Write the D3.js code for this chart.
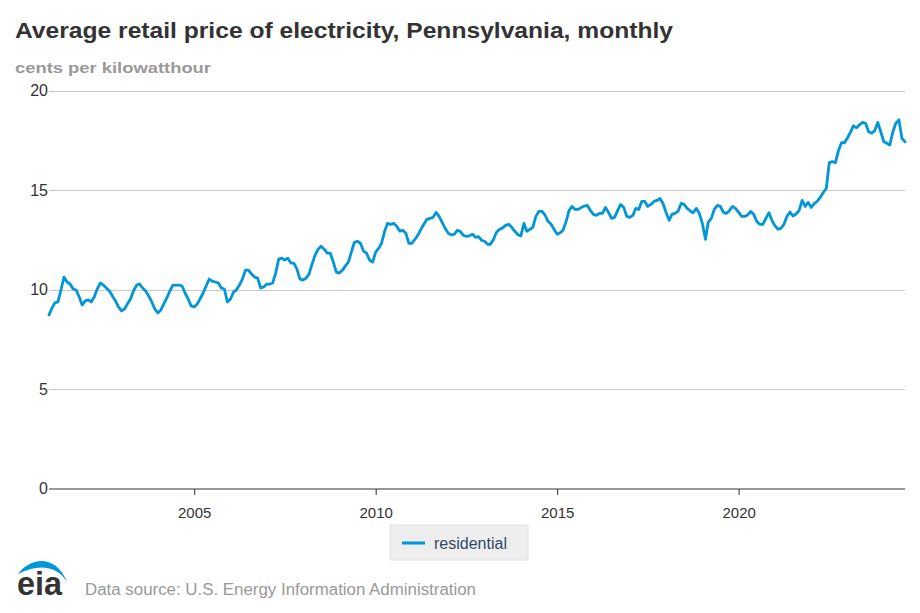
<!DOCTYPE html>
<html>
<head>
<meta charset="utf-8">
<script src="https://cdn.jsdelivr.net/npm/d3@7"></script>
<style>
  html, body { margin: 0; padding: 0; background: #fff; }
  svg { display: block; font-family: "Liberation Sans", Arial, sans-serif; }
</style>
</head>
<body>
<svg id="chart" width="920" height="613"></svg>
<script>
// ---- data (cents per kilowatthour, monthly, starting Jan 2001) ----
const startYear = 2001;
const v2001 = [8.75, 9.1, 9.35, 9.4, 10.0, 10.65, 10.4, 10.3, 10.05, 10.0, 9.65, 9.25];
const v2002 = [9.45, 9.5, 9.4, 9.65, 10.05, 10.35, 10.25, 10.1, 9.95, 9.7, 9.45, 9.15];
const v2003 = [8.95, 9.05, 9.3, 9.55, 9.95, 10.25, 10.3, 10.1, 9.95, 9.7, 9.4, 9.05];
const v2004 = [8.85, 9.0, 9.3, 9.6, 9.95, 10.25, 10.25, 10.25, 10.2, 9.85, 9.55, 9.2];
const v2005 = [9.15, 9.3, 9.55, 9.85, 10.2, 10.55, 10.45, 10.4, 10.35, 10.1, 10.05, 9.4];
const v2006 = [9.55, 9.9, 10.0, 10.25, 10.55, 11.0, 11.0, 10.8, 10.65, 10.6, 10.1, 10.15];
const v2007 = [10.3, 10.3, 10.35, 10.85, 11.55, 11.6, 11.5, 11.6, 11.35, 11.35, 11.05, 10.55];
const v2008 = [10.5, 10.6, 10.8, 11.3, 11.75, 12.05, 12.2, 12.05, 11.85, 11.85, 11.4, 10.9];
const v2009 = [10.85, 11.0, 11.2, 11.4, 11.9, 12.4, 12.45, 12.35, 11.95, 11.85, 11.5, 11.4];
const v2010 = [11.9, 12.1, 12.35, 12.95, 13.35, 13.3, 13.35, 13.2, 12.95, 13.0, 12.85, 12.35];
const v2011 = [12.35, 12.55, 12.75, 13.05, 13.3, 13.55, 13.6, 13.65, 13.9, 13.7, 13.4, 13.1];
const v2012 = [12.85, 12.77, 12.8, 13.0, 12.95, 12.75, 12.7, 12.72, 12.8, 12.65, 12.68, 12.5];
const v2013 = [12.45, 12.3, 12.3, 12.55, 12.9, 13.05, 13.12, 13.25, 13.3, 13.15, 12.95, 12.78];
const v2014 = [12.72, 13.35, 12.95, 13.05, 13.15, 13.7, 13.95, 13.95, 13.77, 13.45, 13.3, 13.05];
const v2015 = [12.8, 12.88, 13.0, 13.45, 14.0, 14.2, 14.05, 14.05, 14.15, 14.22, 14.25, 14.0];
const v2016 = [13.8, 13.75, 13.85, 13.85, 14.15, 13.9, 13.6, 13.65, 14.0, 14.3, 14.15, 13.7];
const v2017 = [13.65, 13.75, 14.1, 14.05, 14.45, 14.45, 14.2, 14.3, 14.45, 14.5, 14.6, 14.35];
const v2018 = [13.9, 13.5, 13.8, 13.85, 13.95, 14.35, 14.3, 14.1, 13.97, 13.88, 14.1, 13.85];
const v2019 = [13.35, 12.55, 13.4, 13.6, 14.05, 14.25, 14.2, 13.9, 13.85, 14.0, 14.2, 14.1];
const v2020 = [13.9, 13.7, 13.7, 13.77, 13.95, 13.8, 13.45, 13.3, 13.3, 13.6, 13.88, 13.5];
const v2021 = [13.22, 13.05, 13.1, 13.3, 13.7, 13.92, 13.72, 13.82, 14.0, 14.5, 14.2, 14.4];
const v2022 = [14.15, 14.35, 14.45, 14.65, 14.9, 15.1, 16.4, 16.45, 16.4, 17.0, 17.4, 17.4];
const v2023 = [17.65, 17.95, 18.25, 18.15, 18.3, 18.42, 18.38, 17.95, 17.88, 18.0, 18.42, 17.95];
const v2024 = [17.45, 17.37, 17.28, 17.95, 18.38, 18.55, 17.62, 17.45];

const residential = [].concat(v2001, v2002, v2003, v2004, v2005, v2006, v2007, v2008,
  v2009, v2010, v2011, v2012, v2013, v2014, v2015, v2016, v2017, v2018, v2019, v2020,
  v2021, v2022, v2023, v2024);

const yTicks = [0, 5, 10, 15, 20];
const xTickYears = [2005, 2010, 2015, 2020];
const seriesName = "residential";
const titleText = "Average retail price of electricity, Pennsylvania, monthly";
const unitText = "cents per kilowatthour";
const sourceText = "Data source: U.S. Energy Information Administration";

// ---- drawing ----
const svg = d3.select("#chart");
const data = residential.map((v, i) => ({ date: new Date(startYear, i, 1), value: v }));

const x = d3.scaleTime()
  .domain([data[0].date, data[data.length - 1].date])
  .range([49, 905]);
const y = d3.scaleLinear().domain([0, 20]).range([489, 91]);

// title + units
svg.append("text").attr("x", 15).attr("y", 38)
  .attr("font-size", 22).attr("font-weight", "bold").attr("fill", "#333")
  .attr("textLength", 658).attr("lengthAdjust", "spacingAndGlyphs")
  .text(titleText);
svg.append("text").attr("x", 15).attr("y", 73)
  .attr("font-size", 15).attr("font-weight", "bold").attr("fill", "#999")
  .attr("textLength", 196).attr("lengthAdjust", "spacingAndGlyphs")
  .text(unitText);

// grid
const grid = svg.append("g");
grid.selectAll("line").data(yTicks.filter(d => d > 0)).join("line")
  .attr("x1", 49).attr("x2", 905)
  .attr("y1", d => y(d)).attr("y2", d => y(d))
  .attr("stroke", "#c8c8c8").attr("stroke-width", 1).attr("shape-rendering", "crispEdges");

// y labels
svg.append("g").selectAll("text").data(yTicks).join("text")
  .attr("x", 48).attr("y", d => y(d) + 5)
  .attr("text-anchor", "end").attr("font-size", 16).attr("fill", "#333")
  .text(d => d);

// x axis
const xAxis = d3.axisBottom(x)
  .tickValues(xTickYears.map(yr => new Date(yr, 0, 1)))
  .tickFormat(d3.timeFormat("%Y"))
  .tickSize(6).tickSizeOuter(0);
const gx = svg.append("g").attr("transform", `translate(0,${y(0)})`).call(xAxis);
gx.select(".domain").attr("stroke", "#333").attr("d", "M49,0H905");
gx.selectAll(".tick line").attr("stroke", "#333");
gx.selectAll(".tick text").attr("font-size", 15).attr("fill", "#333")
  .attr("font-family", "Liberation Sans, Arial, sans-serif").attr("dy", "1.3em");

// line
const line = d3.line().x(d => x(d.date)).y(d => y(d.value)).curve(d3.curveLinear);
svg.append("path").datum(data)
  .attr("fill", "none").attr("stroke", "#0096d7").attr("stroke-width", 2.8)
  .attr("stroke-linejoin", "round").attr("stroke-linecap", "round")
  .attr("d", line);

// legend
const lg = svg.append("g");
lg.append("rect").attr("x", 390).attr("y", 525).attr("width", 138).attr("height", 35)
  .attr("fill", "#eeeeee").attr("stroke", "#e2e2e2");
lg.append("line").attr("x1", 402).attr("x2", 425).attr("y1", 543).attr("y2", 543)
  .attr("stroke", "#0096d7").attr("stroke-width", 3);
lg.append("text").attr("x", 434).attr("y", 549).attr("font-size", 16).attr("fill", "#2f4b66")
  .text(seriesName);

// eia logo
svg.append("path")
  .attr("d", "M18,574 C30,558 55,553 67,582 C58,566 38,563 18,574 Z")
  .attr("fill", "#0096d7");
svg.append("text").attr("x", 17).attr("y", 595)
  .attr("font-size", 34).attr("font-weight", "bold").attr("fill", "#333")
  .attr("textLength", 45).attr("lengthAdjust", "spacingAndGlyphs")
  .text("eia");

// source
svg.append("text").attr("x", 85).attr("y", 595)
  .attr("font-size", 16).attr("fill", "#999")
  .attr("textLength", 391).attr("lengthAdjust", "spacingAndGlyphs")
  .text(sourceText);
</script>
</body>
</html>
